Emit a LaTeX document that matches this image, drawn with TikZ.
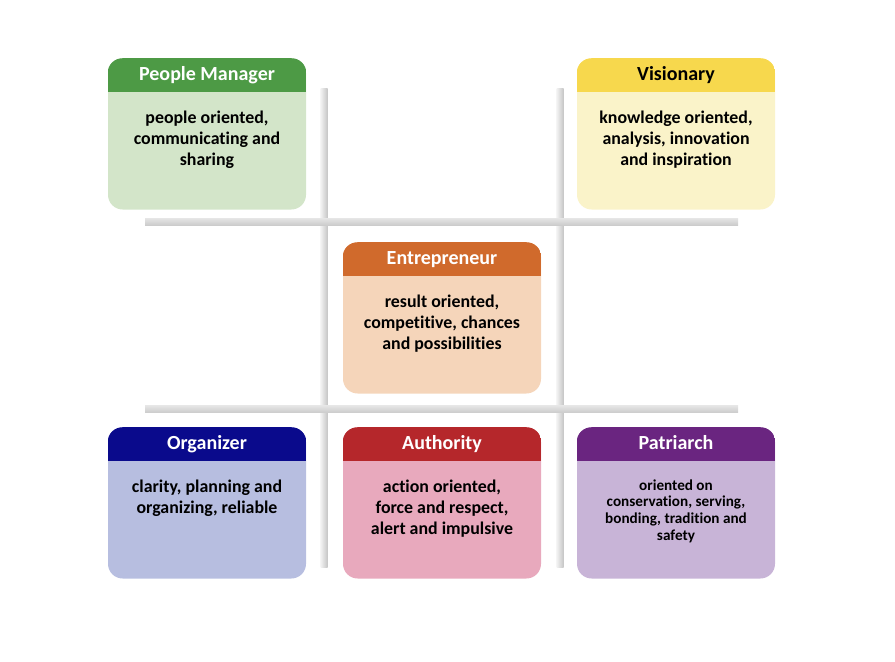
\documentclass[tikz,border=0pt]{standalone}
\usepackage{fontspec}
\setmainfont{Carlito}[Ligatures=CommonOff]
\usetikzlibrary{positioning}

\definecolor{pmdark}{HTML}{4D9A45}
\definecolor{pmlight}{HTML}{D3E5C9}
\definecolor{visdark}{HTML}{F7D84D}
\definecolor{vislight}{HTML}{FAF3C9}
\definecolor{entdark}{HTML}{D06A2C}
\definecolor{entlight}{HTML}{F5D5BA}
\definecolor{orgdark}{HTML}{0A0A8C}
\definecolor{orglight}{HTML}{B7BEE0}
\definecolor{autdark}{HTML}{B5272B}
\definecolor{autlight}{HTML}{E8A9BD}
\definecolor{patdark}{HTML}{6A2580}
\definecolor{patlight}{HTML}{C8B4D7}

\begin{document}
\begin{tikzpicture}[x=0.75pt, y=-0.75pt,
  card/.style={rounded corners=11pt, minimum width=148.5pt, minimum height=113.25pt, inner sep=0pt},
  head/.style={font=\fontsize{15}{18}\selectfont\bfseries, text=white, text height=10.5pt, text depth=3pt, inner sep=0pt},
  body/.style={font=\fontsize{13.4}{15.8}\selectfont\bfseries, align=center, inner sep=0pt, anchor=north},
  small/.style={font=\fontsize{11.4}{12.6}\selectfont\bfseries}]

  \useasboundingbox (0,0) rectangle (895,661);

  \newcommand\Card[8][]{%
    \node[card, fill=#6] (#2) at (#3,#4) {};
    \begin{scope}
      \clip[rounded corners=11pt] (#2.north west) rectangle (#2.south east);
      \fill[#5] (#2.north west) rectangle ([yshift=-25.5pt]#2.north east);
    \end{scope}
    \node[head] (#2-head) at ([yshift=-13pt]#2.north) {#7};
    \node[body, #1] (#2-text) at ([yshift=-39pt]#2.north) {#8};
  }

  %% grid
  \shade[left color=gray!10, right color=gray!45] (320.5,88) rectangle (327.5,567);
  \shade[left color=gray!10, right color=gray!45] (556.5,88) rectangle (563.5,567);
  \shade[top color=gray!20, bottom color=gray!40] (145,218) rectangle (738,225);
  \shade[top color=gray!20, bottom color=gray!40] (145,405.5) rectangle (738,412.5);

  \Card{people}{207}{134}{pmdark}{pmlight}{People Manager}
    {people oriented,\\communicating and\\sharing}
  \Card{vision}{676}{134}{visdark}{vislight}{\textcolor{black}{Visionary}}
    {knowledge oriented,\\analysis, innovation\\and inspiration}
  \Card{entre}{442}{318}{entdark}{entlight}{Entrepreneur}
    {result oriented,\\competitive, chances\\and possibilities}
  \Card{organ}{207}{503}{orgdark}{orglight}{Organizer}
    {clarity, planning and\\organizing, reliable}
  \Card{auth}{442}{503}{autdark}{autlight}{Authority}
    {action oriented,\\force and respect,\\alert and impulsive}
  \Card[small]{patri}{676}{503}{patdark}{patlight}{Patriarch}
    {oriented on\\conservation, serving,\\bonding, tradition and\\safety}
\end{tikzpicture}
\end{document}
